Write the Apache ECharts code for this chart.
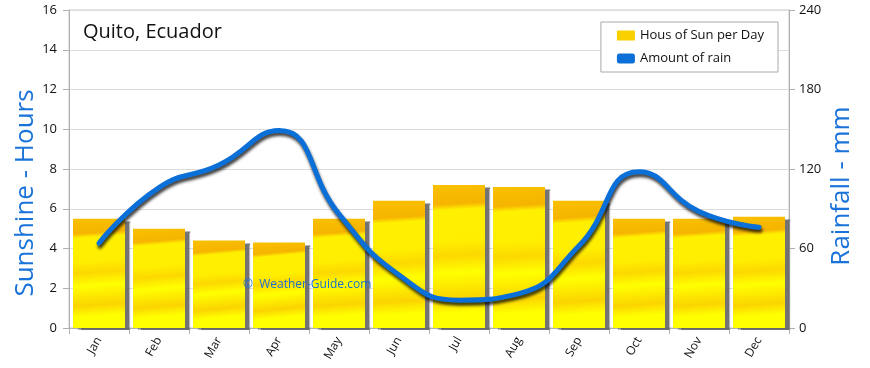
<!DOCTYPE html>
<html><head><meta charset="utf-8">
<script src="https://cdn.jsdelivr.net/npm/echarts@6/dist/echarts.min.js"></script>
<style>html,body{margin:0;padding:0;background:#fff}#c{width:870px;height:368px}</style>
</head><body><div id="c"></div>
<script>
const months = ['Jan','Feb','Mar','Apr','May','Jun','Jul','Aug','Sep','Oct','Nov','Dec'];
const sunHours = [5.5, 5.0, 4.4, 4.3, 5.5, 6.4, 7.2, 7.1, 6.4, 5.5, 5.5, 5.6];
const rainMm = [64, 106, 123, 149, 86, 40, 21, 26, 62, 118, 88, 76];
const sunTicks = [0, 16, 2];
const rainTicks = [0, 240, 60];
const FONT = '"Open Sans", "DejaVu Sans", sans-serif';

const chart = echarts.init(document.getElementById('c'), null, {renderer: 'canvas'});
const barFill = new echarts.graphic.LinearGradient(0, 0, 0.15, 1, [
  {offset: 0, color: '#f9c000'},
  {offset: 0.14, color: '#f6b400'},
  {offset: 0.18, color: '#fff000'},
  {offset: 0.4, color: '#ffee00'},
  {offset: 0.5, color: '#fcd800'},
  {offset: 0.62, color: '#ffff00'},
  {offset: 0.8, color: '#fbd400'},
  {offset: 0.9, color: '#ffff00'},
  {offset: 1, color: '#ffff00'}
]);
chart.setOption({
  animation: false,
  backgroundColor: '#fff',
  title: {
    text: 'Quito, Ecuador', left: 78, top: 17,
    textStyle: {fontFamily: FONT, fontSize: 20, fontWeight: 'normal', color: '#111'}
  },
  legend: {
    right: 92, top: 22, orient: 'vertical', itemGap: 10,
    padding: [7, 14, 7, 16], borderColor: '#aaa', borderWidth: 1, borderRadius: 0,
    backgroundColor: '#fff',
    itemWidth: 18, itemHeight: 10,
    textStyle: {fontFamily: FONT, fontSize: 13, color: '#111'},
    data: [
      {name: 'Hous of Sun per Day', icon: 'rect', itemStyle: {color: '#f9d000'}},
      {name: 'Amount of rain', icon: 'roundRect', itemStyle: {color: '#0b6fd8'}}
    ]
  },
  grid: {left: 69, right: 81, top: 10, bottom: 40, show: true, borderColor: '#c8c8c8', borderWidth: 1},
  graphic: [
    {type: 'text', x: 243, y: 279, z: 100, style: {text: '©  Weather-Guide.com', fill: '#1a6fd0', font: '12px ' + FONT}},
    {type: 'text', x: 26, y: 193, z: 100, rotation: Math.PI / 2, style: {text: 'Sunshine - Hours', fill: '#1a73d9', font: '26px ' + FONT, textAlign: 'center', textVerticalAlign: 'middle'}},
    {type: 'text', x: 842, y: 186, z: 100, rotation: Math.PI / 2, style: {text: 'Rainfall - mm', fill: '#1a73d9', font: '26px ' + FONT, textAlign: 'center', textVerticalAlign: 'middle'}}
  ],
  xAxis: {
    type: 'category', data: months,
    axisLine: {lineStyle: {color: '#b0b0b0'}},
    axisTick: {show: true, alignWithLabel: false, length: 6, lineStyle: {color: '#b0b0b0'}},
    axisLabel: {rotate: 60, fontFamily: FONT, fontSize: 12, color: '#111', margin: 10}
  },
  yAxis: [
    {
      type: 'value', min: sunTicks[0], max: sunTicks[1], interval: sunTicks[2],
      axisLine: {show: true, lineStyle: {color: '#b0b0b0'}},
      axisTick: {show: true, length: 6, lineStyle: {color: '#b0b0b0'}},
      axisLabel: {fontFamily: FONT, fontSize: 13, color: '#111', margin: 12},
      splitLine: {lineStyle: {color: '#dcdcdc'}}
    },
    {
      type: 'value', min: rainTicks[0], max: rainTicks[1], interval: rainTicks[2],
      axisLine: {show: true, lineStyle: {color: '#b0b0b0'}},
      axisTick: {show: true, length: 6, lineStyle: {color: '#b0b0b0'}},
      axisLabel: {fontFamily: FONT, fontSize: 13, color: '#111', margin: 10},
      splitLine: {show: false}
    }
  ],
  series: [
    {
      name: 'Hous of Sun per Day', type: 'bar', data: sunHours, barWidth: 52,
      itemStyle: {color: barFill, shadowColor: 'rgba(90,90,90,0.85)', shadowOffsetX: 5, shadowOffsetY: 2, shadowBlur: 1}
    },
    {
      name: 'Amount of rain', type: 'line', yAxisIndex: 1, data: rainMm, smooth: 0.5,
      symbol: 'none',
      lineStyle: {color: '#0b6fd8', width: 5, shadowColor: 'rgba(0,0,0,0.75)', shadowBlur: 3, shadowOffsetX: 1, shadowOffsetY: 3, cap: 'round'},
      itemStyle: {color: '#0b6fd8'}
    }
  ]
});
</script></body></html>
